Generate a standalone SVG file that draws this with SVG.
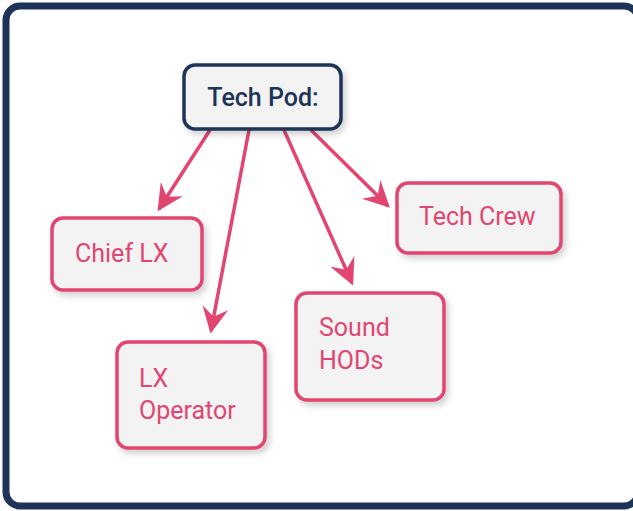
<svg xmlns="http://www.w3.org/2000/svg" width="633" height="511" viewBox="0 0 633 511">
<style>
.frame{fill:#ffffff;stroke:#1c3459;stroke-width:7}
.box{fill:#f3f3f4;stroke:#e2456f;stroke-width:3.5}
.root{fill:#f3f3f4;stroke:#1c3459;stroke-width:3.5}
.t{font-family:Roboto,"Open Sans",sans-serif;font-size:25px;font-weight:400;fill:#e2456f}
.rt{font-family:Roboto,"Open Sans",sans-serif;font-size:25px;font-weight:500;fill:#1c3459}
.edge{stroke:#e2456f;stroke-width:3.5;fill:none}
</style>
<defs>
<filter id="sh" x="-20%" y="-20%" width="150%" height="150%">
<feDropShadow dx="3" dy="4" stdDeviation="3" flood-color="#000" flood-opacity="0.18"/>
</filter>
<marker id="ah" viewBox="0 0 10 10" refX="9" refY="5" markerWidth="7.5" markerHeight="7.5" orient="auto" markerUnits="strokeWidth">
<path d="M0,0 L10,5 L0,10 L3.5,5 Z" fill="#e2456f"/>
</marker>
</defs>
<rect class="frame" x="6" y="6" width="632" height="500" rx="14"/>
<g id="edges">
<line class="edge" x1="210" y1="130" x2="159" y2="209" marker-end="url(#ah)"/>
<line class="edge" x1="249" y1="130" x2="211" y2="331" marker-end="url(#ah)"/>
<line class="edge" x1="284" y1="130" x2="352" y2="283" marker-end="url(#ah)"/>
<line class="edge" x1="311" y1="130" x2="388" y2="206" marker-end="url(#ah)"/>
</g>
<g id="tech-pod">
<rect class="root" x="184" y="65" width="157" height="64" rx="11" filter="url(#sh)"/>
<text class="rt" x="263" y="106" text-anchor="middle">Tech Pod:</text>
</g>
<g id="chief-lx">
<rect class="box" x="52" y="218" width="150" height="72" rx="11" filter="url(#sh)"/>
<text class="t" x="75" y="262">Chief LX</text>
</g>
<g id="tech-crew">
<rect class="box" x="397" y="183" width="164" height="70" rx="11" filter="url(#sh)"/>
<text class="t" x="419" y="225">Tech Crew</text>
</g>
<g id="sound-hods">
<rect class="box" x="296" y="293" width="148" height="107" rx="11" filter="url(#sh)"/>
<text class="t" x="319" y="336">Sound</text>
<text class="t" x="319" y="369">HODs</text>
</g>
<g id="lx-operator">
<rect class="box" x="117" y="342" width="148" height="106" rx="11" filter="url(#sh)"/>
<text class="t" x="139" y="387">LX</text>
<text class="t" x="139" y="419">Operator</text>
</g>
</svg>
